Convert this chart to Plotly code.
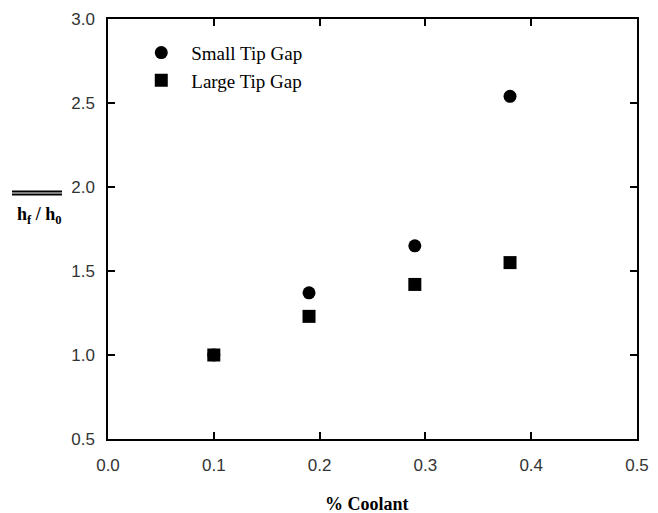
import plotly.graph_objects as go

coolant = [0.1, 0.19, 0.29, 0.38]
small_gap = [1.0, 1.37, 1.65, 2.54]
large_gap = [1.0, 1.23, 1.42, 1.55]
x_ticks = [0.0, 0.1, 0.2, 0.3, 0.4, 0.5]
y_ticks = [0.5, 1.0, 1.5, 2.0, 2.5, 3.0]

serif = "Liberation Serif"
sans = "Liberation Sans"
fig = go.Figure()
fig.add_trace(go.Scatter(x=coolant, y=small_gap, mode="markers", name="Small Tip Gap",
                         marker=dict(symbol="circle", size=13, color="black")))
fig.add_trace(go.Scatter(x=coolant, y=large_gap, mode="markers", name="Large Tip Gap",
                         marker=dict(symbol="square", size=13, color="black")))

axis_common = dict(showgrid=False, zeroline=False, showline=True, linecolor="black", linewidth=1.5,
                   mirror="ticks", ticks="inside", ticklen=7, tickwidth=1.5, tickcolor="black",
                   automargin=False,
                   tickfont=dict(family=sans, size=17, color="#333333"))
fig.update_xaxes(range=[0, 0.5], tickvals=x_ticks, ticktext=[f"{v:.1f}" for v in x_ticks],
                 ticklabelstandoff=10, **axis_common)
fig.update_yaxes(range=[0.5, 3.0], tickvals=y_ticks, ticktext=[f"{v:.1f}" for v in y_ticks],
                 ticklabelstandoff=8, **axis_common)

fig.add_annotation(text="<b>% Coolant</b>", xref="paper", yref="paper",
                   x=0.49, y=-0.154, xanchor="center", yanchor="middle", showarrow=False,
                   font=dict(family=serif, size=18, color="black"))
fig.add_annotation(text="<b>h<sub>f</sub> / h<sub>0</sub></b>", xref="paper", yref="paper",
                   x=-0.129, y=0.532, xanchor="center", yanchor="middle", showarrow=False,
                   font=dict(family=serif, size=18, color="black"))
for yy in [0.589, 0.582]:
    fig.add_shape(type="line", xref="paper", yref="paper", x0=-0.1815, x1=-0.087, y0=yy, y1=yy,
                  line=dict(color="black", width=2))

fig.update_layout(
    width=658, height=513,
    margin=dict(l=100, r=29, t=11, b=82),
    plot_bgcolor="white", paper_bgcolor="white",
    legend=dict(x=0.044, y=0.965, xanchor="left", yanchor="top", bgcolor="rgba(0,0,0,0)",
                font=dict(family=serif, size=19, color="black"), itemwidth=50,
                tracegroupgap=0, traceorder="normal"),
)
fig.write_html("out.html")
